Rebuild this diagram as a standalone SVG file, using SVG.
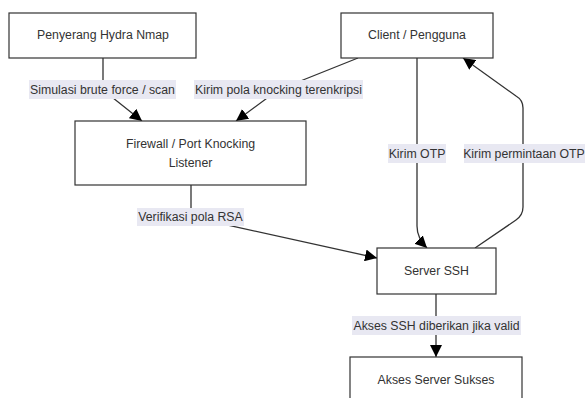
<svg xmlns="http://www.w3.org/2000/svg" width="585" height="398" viewBox="0 0 585 398">
<defs>
<style>
.node rect{fill:#ffffff;stroke:#333333;stroke-width:1.2}
.t{font-family:"Liberation Sans",Arial,sans-serif;font-size:12.3px;fill:#333333;text-anchor:middle;dominant-baseline:central}
.e{fill:none;stroke:#333333;stroke-width:1.3}
.lb{fill:#e8e8f2}
</style>
<marker id="ah" markerWidth="12" markerHeight="12" refX="10" refY="5" orient="auto" markerUnits="userSpaceOnUse" viewBox="0 0 10 10">
<path d="M0,0 L10,5 L0,10 Z" fill="#000000"/>
</marker>
</defs>
<rect width="585" height="398" fill="#ffffff"/>
<g id="connectors">
<path class="e" d="M103,58 L103,90 L142,121" marker-end="url(#ah)"/>
<path class="e" d="M358,58 L278,90 L236,121" marker-end="url(#ah)"/>
<path class="e" d="M191,185 L191,217 L377,258" marker-end="url(#ah)"/>
<path class="e" d="M417,58 L417,226 Q417,238 427,248" marker-end="url(#ah)"/>
<path class="e" d="M475,248 L516,220 Q523,215 523,207 L523,108 Q523,100 516,96 L463,58" marker-end="url(#ah)"/>
<path class="e" d="M436,294 L436,357" marker-end="url(#ah)"/>
<g id="edge-labels">
<rect class="lb" x="29" y="80" width="147" height="19"/>
<text class="t" x="102.5" y="90">Simulasi brute force / scan</text>
<rect class="lb" x="194" y="80" width="169" height="19"/>
<text class="t" x="278.5" y="90">Kirim pola knocking terenkripsi</text>
<rect class="lb" x="137" y="208" width="107" height="18"/>
<text class="t" x="190.5" y="217">Verifikasi pola RSA</text>
<rect class="lb" x="388" y="144" width="58" height="19"/>
<text class="t" x="417" y="154">Kirim OTP</text>
<rect class="lb" x="464" y="144" width="121" height="19"/>
<text class="t" x="524" y="154">Kirim permintaan OTP</text>
<rect class="lb" x="352" y="316" width="169" height="19"/>
<text class="t" x="436.5" y="326">Akses SSH diberikan jika valid</text>
</g>
</g>
<g id="penyerang" class="node">
<rect x="9" y="13" width="187" height="45"/>
<text class="t" x="103" y="35">Penyerang Hydra Nmap</text>
</g>
<g id="client" class="node">
<rect x="341" y="13" width="152" height="45"/>
<text class="t" x="417" y="35">Client / Pengguna</text>
</g>
<g id="firewall" class="node">
<rect x="75" y="121" width="231" height="64"/>
<text class="t" x="190.5" y="144">Firewall / Port Knocking</text>
<text class="t" x="190.5" y="163">Listener</text>
</g>
<g id="server" class="node">
<rect x="377" y="248" width="119" height="46"/>
<text class="t" x="436.5" y="271">Server SSH</text>
</g>
<g id="akses" class="node">
<rect x="350" y="357" width="172" height="46"/>
<text class="t" x="436" y="380">Akses Server Sukses</text>
</g>
</svg>
